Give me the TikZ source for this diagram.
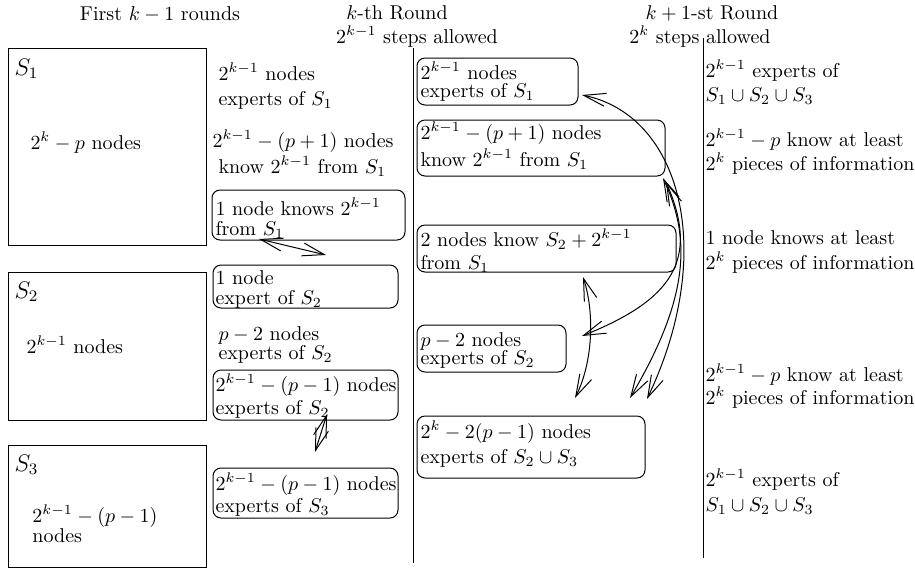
\documentclass[tikz,border=0pt]{standalone}
\usepackage{amsmath}
\usepackage{amssymb}
\usetikzlibrary{arrows.meta, positioning, fit}

\begin{document}
\begin{tikzpicture}[x=0.5pt, y=-0.5pt, line width=0.5pt,
    font=\fontsize{10}{12}\selectfont,
    >={Straight Barb[length=11pt, width=6.5pt]},
    txt/.style={anchor=base west, inner sep=0pt},
    head/.style={anchor=base, inner sep=0pt},
    setname/.style={anchor=base west, inner sep=0pt, font=\fontsize{12}{14}\selectfont},
    setbox/.style={draw, inner sep=0pt},
    roundbox/.style={draw, rounded corners=4pt, inner sep=0pt}]
    \useasboundingbox (0,0) rectangle (915,569);
    % Headings and round separators:
    \node[head] (h1) at (160,20) {First $k-1$ rounds};
    \node[head] (h2) at (397,19) {$k$-th Round};
    \node[head] (h2b) at (417,43) {$2^{k-1}$ steps allowed};
    \node[head] (h3) at (712,19) {$k+1$-st Round};
    \node[head] (h3b) at (700,43) {$2^k$ steps allowed};
    \coordinate (l2top) at (413,48);
    \coordinate (l2bot) at (413,563);
    \coordinate (l3top) at (703,38);
    \coordinate (l3bot) at (703,558);
    \draw (l2top) -- (l2bot);
    \draw (l3top) -- (l3bot);
    % First k-1 rounds: the sets
    \node[setbox, fit={(8,48) (206,245)}] (S1) {};
    \node[setbox, fit={(8,272) (206,420)}] (S2) {};
    \node[setbox, fit={(8,445) (206,567)}] (S3) {};
    \node[setname] (S1n) at (14,75) {$S_1$};
    \node[setname] (S2n) at (14,298) {$S_2$};
    \node[setname] (S3n) at (14,471) {$S_3$};
    \node[txt] (S1t) at (30,149) {$2^k-p$ nodes};
    \node[txt] (S2t) at (26,353) {$2^{k-1}$ nodes};
    \node[txt] (S3t) at (32,522) {$2^{k-1}-(p-1)$};
    \node[txt] (S3u) at (32,542) {nodes};
    % k-th round
    \node[txt] (a1) at (218,80) {$2^{k-1}$ nodes};
    \node[txt] (a2) at (218,105) {experts of $S_1$};
    \node[txt] (b1) at (212,147) {$2^{k-1}-(p+1)$ nodes};
    \node[txt] (b2) at (218,173) {know $2^{k-1}$ from $S_1$};
    \node[roundbox, fit={(212,190) (405,240)}] (c2a) {};
    \node[txt] at (215,215) {1 node knows $2^{k-1}$};
    \node[txt] at (215,235) {from $S_1$};
    \node[roundbox, fit={(213,265) (398,308)}] (c2b) {};
    \node[txt] at (215,284) {1 node};
    \node[txt] at (215,304) {expert of $S_2$};
    \node[txt] (d1) at (218,340) {$p-2$ nodes};
    \node[txt] (d2) at (218,359) {experts of $S_2$};
    \node[roundbox, fit={(213,370) (398,420)}] (c2c) {};
    \node[txt] at (215,391) {$2^{k-1}-(p-1)$ nodes};
    \node[txt] at (215,414) {experts of $S_2$};
    \node[roundbox, fit={(213,468) (398,518)}] (c2d) {};
    \node[txt] at (215,490) {$2^{k-1}-(p-1)$ nodes};
    \node[txt] at (215,512) {experts of $S_3$};
    % k+1-st round
    \node[roundbox, fit={(417,58) (578,105)}] (c3a) {};
    \node[txt] at (420,79) {$2^{k-1}$ nodes};
    \node[txt] at (420,97) {experts of $S_1$};
    \node[roundbox, fit={(417,120) (665,176)}] (c3b) {};
    \node[txt] at (420,139) {$2^{k-1}-(p+1)$ nodes};
    \node[txt] at (420,166) {know $2^{k-1}$ from $S_1$};
    \node[roundbox, fit={(417,225) (676,272)}] (c3c) {};
    \node[txt] at (420,246) {2 nodes know $S_2+2^{k-1}$};
    \node[txt] at (420,269) {from $S_1$};
    \node[roundbox, fit={(417,325) (566,372)}] (c3d) {};
    \node[txt] at (420,346) {$p-2$ nodes};
    \node[txt] at (420,364) {experts of $S_2$};
    \node[roundbox, fit={(417,416) (645,478)}] (c3e) {};
    \node[txt] at (420,438) {$2^k-2(p-1)$ nodes};
    \node[txt] at (420,463) {experts of $S_2\cup S_3$};
    % after round k+1
    \node[txt] (r1) at (705,77) {$2^{k-1}$ experts of};
    \node[txt] (r2) at (705,101) {$S_1\cup S_2\cup S_3$};
    \node[txt] (r3) at (705,146) {$2^{k-1}-p$ know at least};
    \node[txt] (r4) at (705,170) {$2^k$ pieces of information};
    \node[txt] (r5) at (705,244) {1 node knows at least};
    \node[txt] (r6) at (705,269) {$2^k$ pieces of information};
    \node[txt] (r7) at (705,381) {$2^{k-1}-p$ know at least};
    \node[txt] (r8) at (705,404) {$2^k$ pieces of information};
    \node[txt] (r9) at (705,486) {$2^{k-1}$ experts of};
    \node[txt] (r10) at (705,511) {$S_1\cup S_2\cup S_3$};
    % exchanges
    \coordinate (x1) at (259,239);
    \coordinate (x2) at (326,255);
    \coordinate (y1) at (327,414);
    \coordinate (y2) at (315,452);
    \coordinate (pa) at (582,95);
    \coordinate (pb) at (663,178);
    \coordinate (pc) at (666,182);
    \coordinate (pd) at (583,277);
    \coordinate (qa) at (647,399);
    \coordinate (qb) at (630,398);
    \coordinate (qc) at (582,336);
    \coordinate (qd) at (575,398);
    \draw[<->] (x1) -- (x2);
    \draw[<->] (y1) -- (y2);
    \draw[<->] (pa) .. controls (680,115) and (718,250) .. (qa);
    \draw[<->] (pb) .. controls (692,240) and (688,300) .. (qb);
    \draw[<->] (pc) .. controls (700,260) and (672,300) .. (qc);
    \draw[<->] (pd) .. controls (594,310) and (594,360) .. (qd);
\end{tikzpicture}
\end{document}
